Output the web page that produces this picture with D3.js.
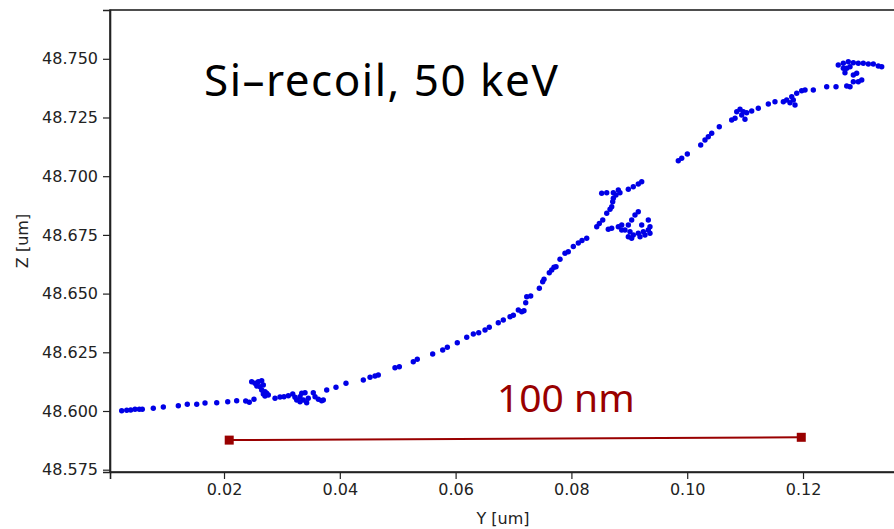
<!DOCTYPE html>
<html>
<head>
<meta charset="utf-8">
<script src="https://cdn.jsdelivr.net/npm/d3@7"></script>
<style>
  body { margin: 0; background: #fff; }
  svg { display: block; }
</style>
</head>
<body>
<div id="chart"></div>
<script>
// recoil track, Y and Z positions in um
var trackY = [
    0.00233, 0.00320, 0.00389, 0.00463, 0.00537, 0.00589, 0.00779, 0.00952, 0.01211, 0.01366,
    0.01529, 0.01672, 0.01874, 0.02064, 0.02219, 0.02375, 0.02437, 0.02518, 0.02478, 0.02535,
    0.02592, 0.02651, 0.02565, 0.02622, 0.02679, 0.02651, 0.02708, 0.02679, 0.02737, 0.02765,
    0.02708, 0.02881, 0.02967, 0.03036, 0.03111, 0.03187, 0.03226, 0.03256, 0.03313, 0.03370,
    0.03428, 0.03342, 0.03399, 0.03313, 0.03456, 0.03542, 0.03572, 0.03629, 0.03687, 0.03715,
    0.03774, 0.03934, 0.04107, 0.04406, 0.04522, 0.04608, 0.04665, 0.04953, 0.05028, 0.05269,
    0.05338, 0.05604, 0.05777, 0.05857, 0.06029, 0.06192, 0.06306, 0.06399, 0.06508, 0.06582,
    0.06737, 0.06824, 0.06940, 0.06997, 0.07083, 0.07142, 0.07181, 0.07211, 0.07228, 0.07297,
    0.07446, 0.07504, 0.07527, 0.07618, 0.07660, 0.07699, 0.07734, 0.07803, 0.07889, 0.07946,
    0.08033, 0.08119, 0.08183, 0.08264, 0.08437, 0.08482, 0.08541, 0.08610, 0.08667, 0.08696,
    0.08713, 0.08724, 0.08523, 0.08610, 0.08724, 0.08810, 0.08839, 0.08770, 0.08983, 0.09069,
    0.09155, 0.09214, 0.08637, 0.08696, 0.08810, 0.08869, 0.08926, 0.09012, 0.09069, 0.09155,
    0.09242, 0.09328, 0.09357, 0.09328, 0.09155, 0.09098, 0.09041, 0.08983, 0.09214, 0.08983,
    0.09041, 0.08869, 0.09185, 0.09271, 0.09357, 0.09846, 0.09905, 0.10002, 0.10233, 0.10307,
    0.10364, 0.10423, 0.10554, 0.10768, 0.10826, 0.10855, 0.10912, 0.10969, 0.11027, 0.11114,
    0.10941, 0.10998, 0.11228, 0.11401, 0.11516, 0.11660, 0.11718, 0.11775, 0.11832, 0.11862,
    0.11805, 0.11891, 0.11977, 0.12035, 0.12178, 0.12409, 0.12570, 0.12755, 0.12812, 0.12869,
    0.12955, 0.13014, 0.12869, 0.12927, 0.12725, 0.12696, 0.12609, 0.12696, 0.12782, 0.12869,
    0.12955, 0.13041, 0.13128, 0.13214, 0.13300, 0.13359, 0.12812, 0.12755
];
var trackZ = [
    48.60013, 48.60030, 48.60043, 48.60072, 48.60072, 48.60072, 48.60115, 48.60170, 48.60226, 48.60285,
    48.60285, 48.60341, 48.60353, 48.60396, 48.60439, 48.60426, 48.60371, 48.60498, 48.61248, 48.61180,
    48.61248, 48.61290, 48.61065, 48.61035, 48.61107, 48.60894, 48.60822, 48.60724, 48.60754, 48.60681,
    48.60639, 48.60541, 48.60596, 48.60609, 48.60652, 48.60724, 48.60583, 48.60468, 48.60396, 48.60468,
    48.60353, 48.60754, 48.60779, 48.60609, 48.60541, 48.60779, 48.60609, 48.60498, 48.60439, 48.60468,
    48.60894, 48.61009, 48.61180, 48.61320, 48.61435, 48.61491, 48.61533, 48.61844, 48.61887, 48.62100,
    48.62202, 48.62428, 48.62598, 48.62713, 48.62909, 48.63139, 48.63279, 48.63335, 48.63450, 48.63565,
    48.63761, 48.63876, 48.64016, 48.64076, 48.64301, 48.64229, 48.64272, 48.64612, 48.64868, 48.64898,
    48.65226, 48.65507, 48.65609, 48.65890, 48.66005, 48.66120, 48.66146, 48.66461, 48.66716, 48.66784,
    48.67006, 48.67155, 48.67261, 48.67355, 48.67849, 48.67985, 48.68134, 48.68420, 48.68590, 48.68701,
    48.68914, 48.69059, 48.69272, 48.69297, 48.69297, 48.69412, 48.69297, 48.69199, 48.69442, 48.69553,
    48.69668, 48.69766, 48.67738, 48.67781, 48.67849, 48.67922, 48.67709, 48.67636, 48.67496, 48.67568,
    48.67636, 48.67709, 48.67849, 48.68134, 48.68488, 48.68347, 48.68134, 48.67922, 48.67922, 48.67423,
    48.67355, 48.67709, 48.67423, 48.67496, 48.67568, 48.70660, 48.70762, 48.70945, 48.71329, 48.71542,
    48.71682, 48.71827, 48.72108, 48.72393, 48.72466, 48.72747, 48.72849, 48.72747, 48.72704, 48.72777,
    48.72606, 48.72423, 48.72892, 48.73075, 48.73173, 48.73173, 48.73245, 48.73130, 48.73245, 48.73032,
    48.73386, 48.73531, 48.73641, 48.73671, 48.73671, 48.73812, 48.73812, 48.73841, 48.73812, 48.74024,
    48.74024, 48.74097, 48.74310, 48.74382, 48.74408, 48.74595, 48.74736, 48.74808, 48.74876, 48.74834,
    48.74808, 48.74808, 48.74778, 48.74778, 48.74693, 48.74663, 48.74663, 48.74595
];

// 100 nm scale bar
var barY = [0.0209, 0.1197];
var barZ = [48.5876, 48.5888];

var xTicks = [0.02, 0.04, 0.06, 0.08, 0.10, 0.12];
var yTicks = [48.575, 48.600, 48.625, 48.650, 48.675, 48.700, 48.725, 48.750];

var width = 894, height = 529;
var margin = { top: 10, left: 110, right: -2, bottom: 57 };

var svg = d3.select("#chart").append("svg")
    .attr("width", width)
    .attr("height", height);

var x = d3.scaleLinear()
    .domain([0.00031, 0.13606])
    .range([margin.left, width - margin.right]);

var y = d3.scaleLinear()
    .domain([48.57402, 48.77078])
    .range([height - margin.bottom, margin.top]);

var fontAxis = "'DejaVu Sans', sans-serif";

// frame
svg.append("rect")
    .attr("x", margin.left)
    .attr("y", margin.top)
    .attr("width", width - margin.right - margin.left)
    .attr("height", height - margin.bottom - margin.top)
    .attr("fill", "none")
    .attr("stroke", "#222")
    .attr("stroke-width", 1.6);

var xAxis = svg.append("g")
    .attr("transform", "translate(0," + (height - margin.bottom) + ")")
    .call(d3.axisBottom(x).tickValues(xTicks).tickFormat(d3.format(".2f")).tickSizeOuter(0).tickSize(7).tickPadding(5));

var yAxis = svg.append("g")
    .attr("transform", "translate(" + margin.left + ",0)")
    .call(d3.axisLeft(y).tickValues(yTicks).tickFormat(d3.format(".3f")).tickSizeOuter(0).tickSize(7).tickPadding(5));

[xAxis, yAxis].forEach(function (g) {
    g.select(".domain").attr("stroke", "#222").attr("stroke-width", 1.6);
    g.selectAll(".tick line").attr("stroke", "#222").attr("stroke-width", 1.2);
    g.selectAll(".tick text")
        .attr("fill", "#222")
        .style("font-family", fontAxis)
        .style("font-size", "16px");
});

svg.append("text")
    .attr("x", 503)
    .attr("y", 524)
    .attr("text-anchor", "middle")
    .attr("fill", "#222")
    .style("font-family", fontAxis)
    .style("font-size", "16px")
    .text("Y [um]");

svg.append("text")
    .attr("transform", "translate(28,241) rotate(-90)")
    .attr("text-anchor", "middle")
    .attr("fill", "#222")
    .style("font-family", fontAxis)
    .style("font-size", "16px")
    .text("Z [um]");

// track points
var pts = trackY.map(function (d, i) { return [d, trackZ[i]]; });

svg.append("g")
    .selectAll("circle")
    .data(pts)
    .enter().append("circle")
    .attr("cx", function (d) { return x(d[0]); })
    .attr("cy", function (d) { return y(d[1]); })
    .attr("r", 2.7)
    .attr("fill", "#0000e6");

// scale bar
svg.append("line")
    .attr("x1", x(barY[0]))
    .attr("y1", y(barZ[0]))
    .attr("x2", x(barY[1]))
    .attr("y2", y(barZ[1]))
    .attr("stroke", "#990000")
    .attr("stroke-width", 2);

svg.selectAll(".barEnd")
    .data([0, 1])
    .enter().append("rect")
    .attr("class", "barEnd")
    .attr("x", function (i) { return x(barY[i]) - 4.5; })
    .attr("y", function (i) { return y(barZ[i]) - 4.5; })
    .attr("width", 9)
    .attr("height", 9)
    .attr("fill", "#990000");

svg.append("text")
    .attr("x", 497)
    .attr("y", 412)
    .attr("fill", "#990000")
    .style("font-family", "'Noto Sans', sans-serif")
    .style("font-size", "39px")
    .text("100 nm");

svg.append("text")
    .attr("x", 204)
    .attr("y", 96)
    .attr("fill", "#000")
    .style("font-family", "'Noto Sans', sans-serif")
    .style("font-size", "44px")
    .style("letter-spacing", "1.5px")
    .text("Si\u2013recoil, 50 keV");
</script>
</body>
</html>
